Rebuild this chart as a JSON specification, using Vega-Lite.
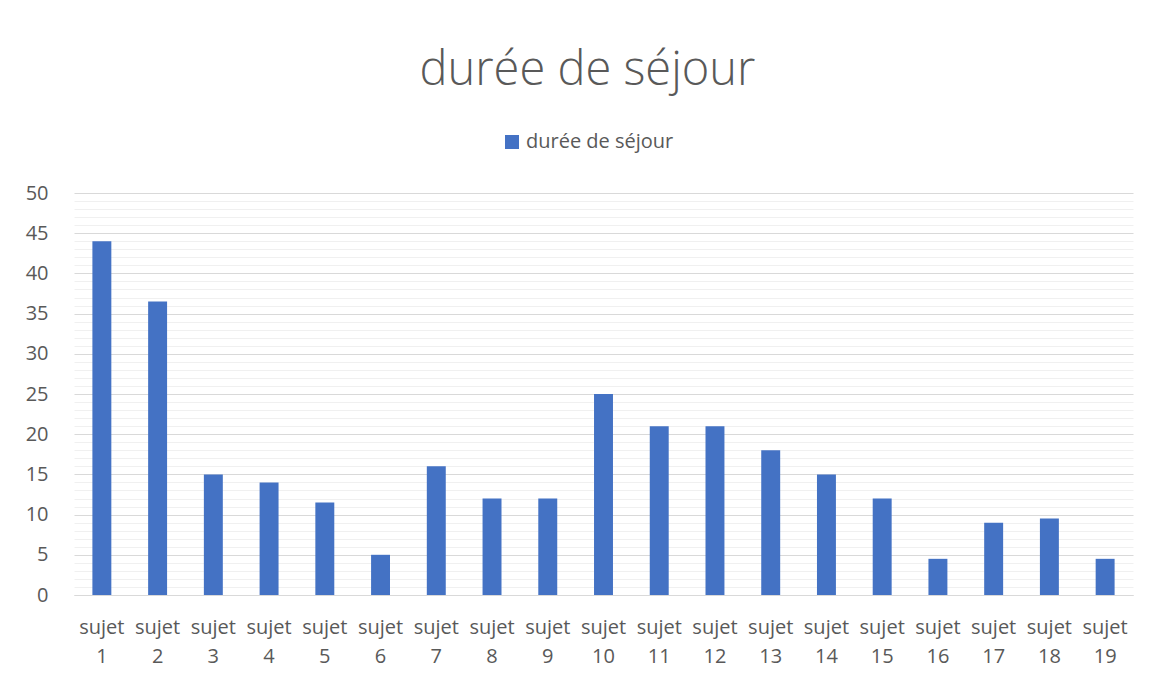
{
  "$schema": "https://vega.github.io/schema/vega-lite/v6.json",
  "width": 1059,
  "height": 402,
  "autosize": "none",
  "padding": {"left": 74, "top": 193, "right": 16, "bottom": 83},
  "background": "white",
  "title": {
    "text": "durée de séjour",
    "anchor": "middle",
    "frame": "group",
    "dx": -16,
    "baseline": "alphabetic",
    "offset": 0,
    "font": "Open Sans",
    "fontSize": 47,
    "fontWeight": 300,
    "color": "#595959"
  },
  "data": {
    "values": [
      {"sujet": "sujet 1", "duree": 44, "serie": "durée de séjour"},
      {"sujet": "sujet 2", "duree": 36.5, "serie": "durée de séjour"},
      {"sujet": "sujet 3", "duree": 15, "serie": "durée de séjour"},
      {"sujet": "sujet 4", "duree": 14, "serie": "durée de séjour"},
      {"sujet": "sujet 5", "duree": 11.5, "serie": "durée de séjour"},
      {"sujet": "sujet 6", "duree": 5, "serie": "durée de séjour"},
      {"sujet": "sujet 7", "duree": 16, "serie": "durée de séjour"},
      {"sujet": "sujet 8", "duree": 12, "serie": "durée de séjour"},
      {"sujet": "sujet 9", "duree": 12, "serie": "durée de séjour"},
      {"sujet": "sujet 10", "duree": 25, "serie": "durée de séjour"},
      {"sujet": "sujet 11", "duree": 21, "serie": "durée de séjour"},
      {"sujet": "sujet 12", "duree": 21, "serie": "durée de séjour"},
      {"sujet": "sujet 13", "duree": 18, "serie": "durée de séjour"},
      {"sujet": "sujet 14", "duree": 15, "serie": "durée de séjour"},
      {"sujet": "sujet 15", "duree": 12, "serie": "durée de séjour"},
      {"sujet": "sujet 16", "duree": 4.5, "serie": "durée de séjour"},
      {"sujet": "sujet 17", "duree": 9, "serie": "durée de séjour"},
      {"sujet": "sujet 18", "duree": 9.5, "serie": "durée de séjour"},
      {"sujet": "sujet 19", "duree": 4.5, "serie": "durée de séjour"}
    ]
  },
  "mark": {"type": "bar"},
  "encoding": {
    "x": {
      "field": "sujet",
      "type": "nominal",
      "sort": null,
      "scale": {"paddingInner": 0.66, "paddingOuter": 0.33},
      "axis": {
        "title": null,
        "labelAngle": 0,
        "labelExpr": "split(datum.label, ' ')",
        "labelFont": "Open Sans",
        "labelFontSize": 20,
        "labelColor": "#595959",
        "labelLineHeight": 29,
        "labelPadding": 22,
        "labelBaseline": "top",
        "ticks": false,
        "domainColor": "#d9d9d9",
        "domainWidth": 1,
        "grid": false
      }
    },
    "y": {
      "field": "duree",
      "type": "quantitative",
      "scale": {"domain": [0, 50], "nice": false},
      "axis": {
        "title": null,
        "values": [0,1,2,3,4,5,6,7,8,9,10,11,12,13,14,15,16,17,18,19,20,21,22,23,24,25,26,27,28,29,30,31,32,33,34,35,36,37,38,39,40,41,42,43,44,45,46,47,48,49,50],
        "labelExpr": "datum.value % 5 === 0 ? datum.label : ''",
        "labelFont": "Open Sans",
        "labelFontSize": 20,
        "labelColor": "#595959",
        "labelPadding": 26,
        "ticks": false,
        "domain": false,
        "grid": true,
        "gridColor": {"condition": {"test": "datum.value % 5 === 0", "value": "#d9d9d9"}, "value": "#f0f0f0"},
        "gridWidth": 1
      }
    },
    "color": {
      "field": "serie",
      "type": "nominal",
      "scale": {"range": ["#4472C4"]},
      "legend": {
        "title": null,
        "orient": "none",
        "legendX": 428,
        "legendY": -61,
        "symbolType": "square",
        "symbolSize": 196,
        "symbolStrokeWidth": 0,
        "labelFont": "Open Sans",
        "labelFontSize": 20,
        "labelColor": "#595959",
        "labelOffset": 4,
        "padding": 0
      }
    }
  },
  "config": {
    "view": {"stroke": null}
  }
}
